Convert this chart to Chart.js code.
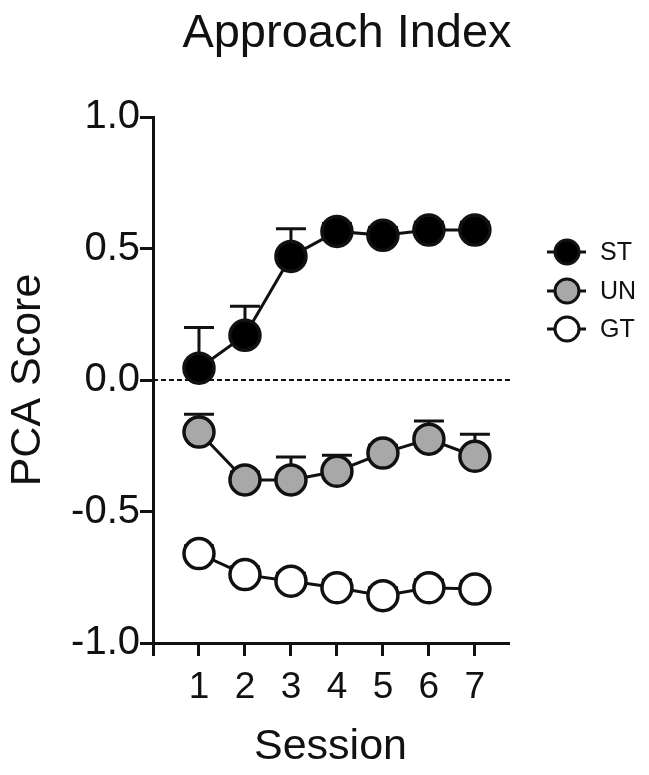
<!DOCTYPE html>
<html>
<head>
<meta charset="utf-8">
<script src="https://cdn.jsdelivr.net/npm/chart.js@4/dist/chart.umd.min.js"></script>
<style>
  html, body { margin: 0; padding: 0; background: #fff; }
  #wrap { position: relative; width: 649px; height: 775px; }
</style>
</head>
<body>
<div id="wrap"><canvas id="c" width="649" height="775"></canvas></div>
<script>
const sessions = [1, 2, 3, 4, 5, 6, 7];
const stMean = [0.045, 0.17, 0.47, 0.565, 0.55, 0.57, 0.57];
const stErr  = [0.155, 0.11, 0.105, 0.03, 0.03, 0.03, 0.03];
const unMean = [-0.198, -0.38, -0.38, -0.347, -0.278, -0.225, -0.29];
const unErr  = [0.068, 0.03, 0.087, 0.061, 0.03, 0.069, 0.084];
const gtMean = [-0.66, -0.74, -0.765, -0.79, -0.82, -0.79, -0.795];
const gtErr  = [0.03, 0.03, 0.03, 0.03, 0.03, 0.03, 0.03];
const yTicks = [-1.0, -0.5, 0.0, 0.5, 1.0];
const xTicks = [0, 1, 2, 3, 4, 5, 6, 7];
const groupNames = ['ST', 'UN', 'GT'];
const groupFills = ['#000000', '#a8a8a8', '#ffffff'];

const FONT = '"Liberation Sans", Arial, Helvetica, sans-serif';
const INK = '#111111';

function pts(vals) { return sessions.map((s, i) => ({ x: s, y: vals[i] })); }

const errSets = [stErr, unErr, gtErr];

const errorBars = {
  id: 'errorBars',
  beforeDatasetsDraw(chart) {
    const ctx = chart.ctx;
    const xs = chart.scales.x, ys = chart.scales.y;
    // zero reference line
    ctx.save();
    ctx.strokeStyle = INK;
    ctx.lineWidth = 2;
    ctx.setLineDash([5, 3]);
    ctx.beginPath();
    const y0 = ys.getPixelForValue(0);
    ctx.moveTo(chart.chartArea.left, y0);
    ctx.lineTo(chart.chartArea.right + 2, y0);
    ctx.stroke();
    ctx.restore();
    // upper error bars
    ctx.save();
    ctx.strokeStyle = INK;
    ctx.lineWidth = 3;
    chart.data.datasets.forEach((ds, di) => {
      const errs = errSets[di];
      ds.data.forEach((p, i) => {
        const px = xs.getPixelForValue(p.x);
        const py = ys.getPixelForValue(p.y);
        const pt = ys.getPixelForValue(p.y + errs[i]);
        ctx.beginPath();
        ctx.moveTo(px, py);
        ctx.lineTo(px, pt);
        ctx.moveTo(px - 15, pt);
        ctx.lineTo(px + 15, pt);
        ctx.stroke();
      });
    });
    ctx.restore();
  }
};

const extras = {
  id: 'extras',
  afterDraw(chart) {
    const ctx = chart.ctx;
    ctx.save();
    // title
    ctx.fillStyle = INK;
    ctx.font = '47px ' + FONT;
    ctx.textAlign = 'center';
    ctx.textBaseline = 'middle';
    ctx.fillText('Approach Index', 347, 34);
    // legend
    const rowsY = [252, 291, 329];
    groupNames.forEach((name, i) => {
      const y = rowsY[i];
      ctx.strokeStyle = INK;
      ctx.lineWidth = 3;
      ctx.beginPath();
      ctx.moveTo(547, y);
      ctx.lineTo(586, y);
      ctx.stroke();
      ctx.beginPath();
      ctx.arc(567, y, 12, 0, Math.PI * 2);
      ctx.fillStyle = groupFills[i];
      ctx.fill();
      ctx.stroke();
      ctx.fillStyle = INK;
      ctx.font = '25px ' + FONT;
      ctx.textAlign = 'left';
      ctx.textBaseline = 'middle';
      ctx.fillText(name, 600, y + 1);
    });
    ctx.restore();
  }
};

const datasets = [stMean, unMean, gtMean].map((vals, i) => ({
  label: groupNames[i],
  data: pts(vals),
  borderColor: INK,
  borderWidth: 3,
  pointRadius: 15,
  pointHoverRadius: 15,
  pointBorderWidth: 3.5,
  pointBackgroundColor: groupFills[i],
  pointBorderColor: INK,
  backgroundColor: groupFills[i],
  showLine: true,
  tension: 0,
  clip: false
}));

new Chart(document.getElementById('c'), {
  type: 'scatter',
  data: { datasets },
  options: {
    responsive: false,
    animation: false,
    events: [],
    layout: { padding: { top: 117, right: 141, left: 0, bottom: 0 } },
    plugins: { legend: { display: false }, title: { display: false }, tooltip: { enabled: false } },
    scales: {
      x: {
        type: 'linear',
        min: 0,
        max: 7.72,
        afterFit(scale) { scale.height = 132; },
        afterBuildTicks(scale) { scale.ticks = xTicks.map(v => ({ value: v })); },
        ticks: {
          color: INK,
          font: { family: FONT, size: 37 },
          padding: 10,
          maxRotation: 0,
          autoSkip: false,
          callback: (v) => (v === 0 ? '' : String(v))
        },
        grid: { display: true, drawOnChartArea: false, drawTicks: true, tickLength: 13, color: INK, lineWidth: 3 },
        border: { display: true, color: INK, width: 3 },
        title: { display: true, text: 'Session', color: INK, font: { family: FONT, size: 43 }, padding: { top: 0, bottom: 2 } }
      },
      y: {
        type: 'linear',
        min: -1,
        max: 1,
        afterFit(scale) { scale.width = 153; },
        afterBuildTicks(scale) { scale.ticks = yTicks.map(v => ({ value: v })); },
        ticks: {
          color: INK,
          font: { family: FONT, size: 40 },
          padding: 0,
          callback: (v) => Number(v).toFixed(1)
        },
        grid: { display: true, drawOnChartArea: false, drawTicks: true, tickLength: 13, color: INK, lineWidth: 3 },
        border: { display: true, color: INK, width: 3 },
        title: { display: true, text: 'PCA Score', color: INK, font: { family: FONT, size: 43 }, padding: { top: 2, bottom: 0 } }
      }
    }
  },
  plugins: [errorBars, extras]
});
</script>
</body>
</html>
